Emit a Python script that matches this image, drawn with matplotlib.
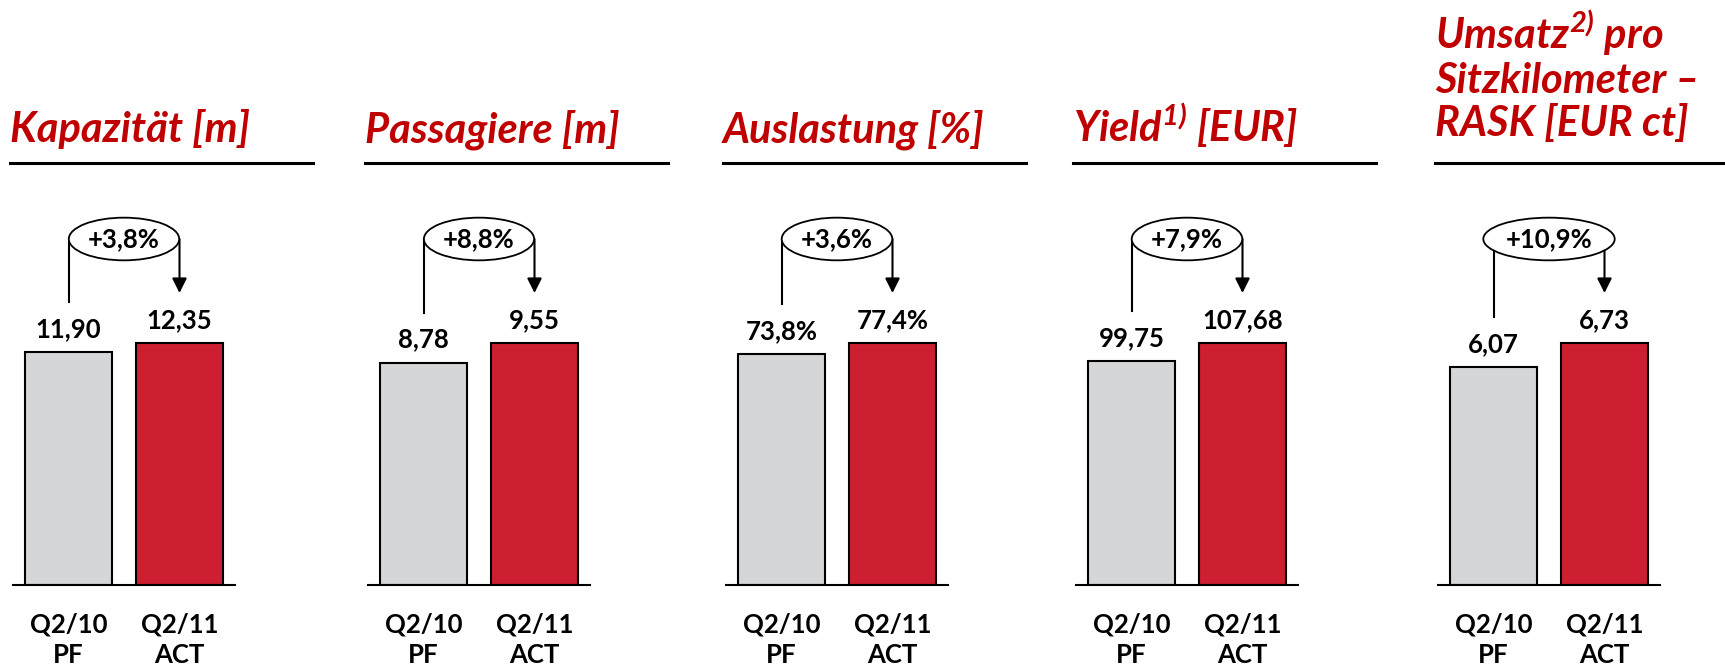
import matplotlib
matplotlib.use('Agg')
import matplotlib.pyplot as plt
from matplotlib.lines import Line2D

plt.rcParams['font.family'] = ['Lato', 'DejaVu Sans']
plt.rcParams['mathtext.fontset'] = 'custom'
plt.rcParams['mathtext.rm'] = 'Lato:italic:bold'
plt.rcParams['mathtext.it'] = 'Lato:italic:bold'
plt.rcParams['mathtext.bf'] = 'Lato:italic:bold'

# data
titles = ['Kapazität [m]', 'Passagiere [m]', 'Auslastung [%]',
          r'Yield$^{1)}$ [EUR]',
          'Umsatz$^{2)}$ pro\nSitzkilometer –\nRASK [EUR ct]']
categories = ['Q2/10\nPF', 'Q2/11\nACT']
prev_values = [11.90, 8.78, 73.8, 99.75, 6.07]
curr_values = [12.35, 9.55, 77.4, 107.68, 6.73]
prev_labels = ['11,90', '8,78', '73,8%', '99,75', '6,07']
curr_labels = ['12,35', '9,55', '77,4%', '107,68', '6,73']
changes = ['+3,8%', '+8,8%', '+3,6%', '+7,9%', '+10,9%']

W, H = 1725, 672
fig = plt.figure(figsize=(W / 100, H / 100), dpi=100)

title_red = '#C00000'
bar_colors = ['#D5D6D8', '#CD1F31']

lefts = [13, 368, 726, 1076, 1438]   # axes left edge in px
ax_w = 222
base_y = 585                          # baseline in px from top
ax_h = 365
bar_px = 242                          # height of the red bar in px

for i in range(5):
    ax = fig.add_axes([lefts[i] / W, (H - base_y) / H, ax_w / W, ax_h / H])
    vals = [prev_values[i], curr_values[i]]
    ymax = curr_values[i] * ax_h / bar_px
    ax.bar([0, 1], vals, width=0.775, color=bar_colors,
           edgecolor='black', linewidth=1.5, zorder=2)
    ax.set_xlim(-0.5, 1.5)
    ax.set_ylim(0, ymax)
    for s in ['top', 'left', 'right']:
        ax.spines[s].set_visible(False)
    ax.spines['bottom'].set_linewidth(1.5)
    ax.set_yticks([])
    ax.set_xticks([0, 1], categories)
    ax.tick_params(axis='x', length=0, pad=20, labelsize=18.5)
    for lbl in ax.get_xticklabels():
        lbl.set_fontweight('bold')
        lbl.set_linespacing(1.3)

    px = ymax / ax_h   # data units per pixel
    for x, v, t in zip([0, 1], vals, [prev_labels[i], curr_labels[i]]):
        ax.text(x, v + 23 * px, t, ha='center', va='center',
                fontsize=18.5, fontweight='bold')

    # change annotation
    ell_y = (base_y - 239) * px
    tip_y = (base_y - 293) * px
    ax.plot([0, 0], [prev_values[i] + 50 * px, ell_y], color='black',
            lw=1.5, clip_on=False, zorder=3)
    ax.annotate('', xy=(1, tip_y), xytext=(1, ell_y),
                arrowprops=dict(arrowstyle='-|>', color='black', lw=1.5,
                                mutation_scale=22, shrinkA=0, shrinkB=0),
                annotation_clip=False, zorder=3)
    ax.text(0.5, ell_y, changes[i], ha='center', va='center', fontsize=18.5,
            fontweight='bold', zorder=5,
            bbox=dict(boxstyle='ellipse,pad=0.12', fc='white', ec='black',
                      lw=1.3))

    # title and rule
    rule_y = (H - 163) / H
    fig.add_artist(Line2D([(lefts[i] - 3) / W, min(lefts[i] + 300, W) / W],
                          [rule_y, rule_y], color='black', lw=2.2))
    base_t = 142 if i < 4 else 136
    fig.text((lefts[i] - 3) / W, (H - base_t) / H, titles[i],
             color=title_red, fontsize=30, fontweight='bold',
             fontstyle='italic', ha='left', va='baseline', linespacing=1.12)

fig.savefig('out.png', dpi=100)
